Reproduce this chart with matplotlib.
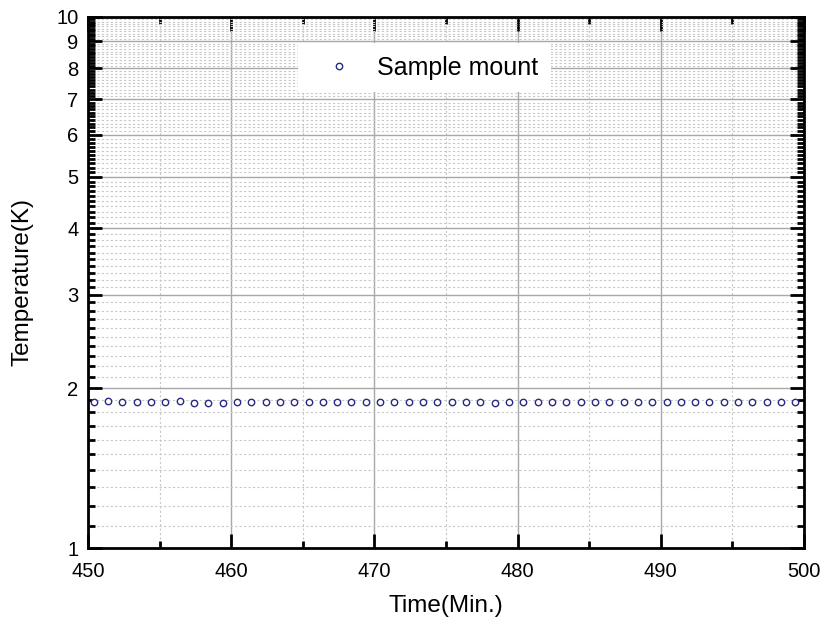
import numpy as np
import matplotlib
matplotlib.use("Agg")
import matplotlib.pyplot as plt
from matplotlib.ticker import FixedLocator, FuncFormatter, MultipleLocator

plt.rcParams['font.family'] = ['Liberation Sans', 'DejaVu Sans']

time_min = [450.4, 451.4, 452.4, 453.4, 454.4, 455.4, 456.4, 457.4, 458.4, 459.4,
            460.4, 461.4, 462.4, 463.4, 464.4, 465.4, 466.4, 467.4, 468.4, 469.4,
            470.4, 471.4, 472.4, 473.4, 474.4, 475.4, 476.4, 477.4, 478.4, 479.4,
            480.4, 481.4, 482.4, 483.4, 484.4, 485.4, 486.4, 487.4, 488.4, 489.4,
            490.4, 491.4, 492.4, 493.4, 494.4, 495.4, 496.4, 497.4, 498.4, 499.4]
temp_k = [1.885, 1.888, 1.886, 1.886, 1.886, 1.887, 1.892, 1.878, 1.877, 1.878,
          1.884, 1.883, 1.884, 1.884, 1.884, 1.885, 1.886, 1.887, 1.886, 1.886,
          1.884, 1.883, 1.882, 1.883, 1.884, 1.882, 1.881, 1.880, 1.879, 1.884,
          1.882, 1.882, 1.884, 1.882, 1.882, 1.881, 1.881, 1.881, 1.880, 1.880,
          1.880, 1.880, 1.881, 1.881, 1.881, 1.880, 1.881, 1.881, 1.880, 1.880]

y_major = [1, 2, 3, 4, 5, 6, 7, 8, 9, 10]
x_major = [450, 460, 470, 480, 490, 500]

fig = plt.figure(figsize=(8.24, 6.26), dpi=100)
ax = fig.add_axes([88/824, 1-548/626, (804-88)/824, (548-17)/626])

ax.plot(time_min, temp_k, linestyle='none', marker='o', markersize=4.6,
        markerfacecolor='white', markeredgecolor='#2a2a85', markeredgewidth=1.0,
        label='Sample mount', zorder=3)

ax.set_yscale('log')
ax.set_xlim(450, 500)
ax.set_ylim(1, 10)

ax.yaxis.set_major_locator(FixedLocator(y_major))
ax.yaxis.set_major_formatter(FuncFormatter(lambda v, p: f"{v:g}"))
minor_y = [round(v, 1) for v in np.arange(1.1, 10.0, 0.1) if abs(v - round(v)) > 1e-6]
ax.yaxis.set_minor_locator(FixedLocator(minor_y))
ax.yaxis.set_minor_formatter(FuncFormatter(lambda v, p: ""))

ax.xaxis.set_major_locator(FixedLocator(x_major))
ax.xaxis.set_minor_locator(MultipleLocator(5))

ax.grid(which='major', color='#a8a8a8', linestyle='-', linewidth=1.0, zorder=0)
ax.grid(which='minor', color='#c8c8c8', linestyle=(0, (2, 2)), linewidth=0.8, zorder=0)
ax.set_axisbelow(True)

for s in ax.spines.values():
    s.set_linewidth(2.0)
    s.set_color('black')

ax.tick_params(which='both', direction='in', top=True, right=True, width=2.0,
               labelsize=14.5, color='black')
ax.tick_params(which='major', length=10)
ax.tick_params(which='minor', length=5)
ax.tick_params(axis='x', which='major', pad=10)
ax.tick_params(axis='y', which='major', pad=7)

ax.set_xlabel('Time(Min.)', fontsize=17.5, labelpad=10)
ax.set_ylabel('Temperature(K)', fontsize=17.5, labelpad=16)

leg = ax.legend(loc='upper left', bbox_to_anchor=((298-88)/716, 1-(43-17)/531),
                fontsize=18, frameon=True, framealpha=1.0, edgecolor='none',
                fancybox=False, handletextpad=0.36, borderpad=0.5,
                handlelength=2.3, borderaxespad=0)
leg.get_frame().set_facecolor('white')

fig.savefig('out.png', dpi=100)
